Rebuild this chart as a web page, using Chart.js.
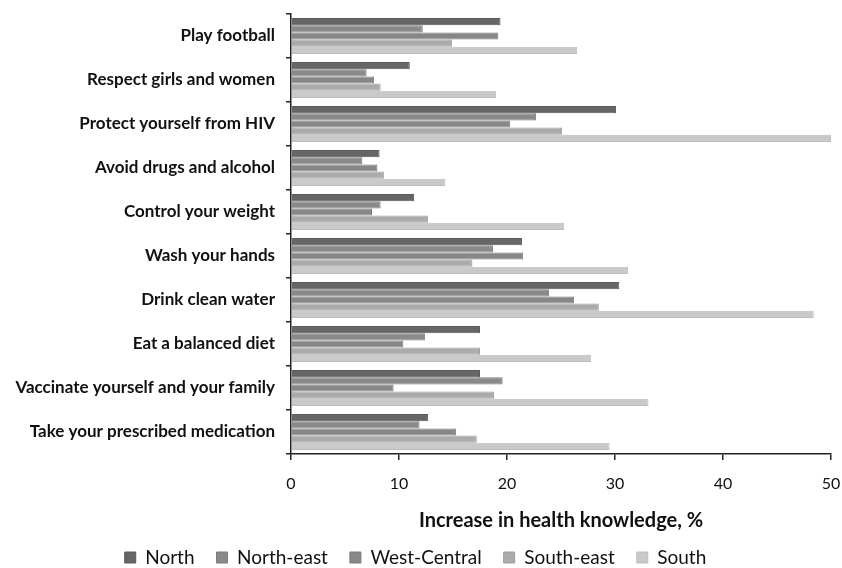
<!DOCTYPE html>
<html>
<head>
<meta charset="utf-8">
<script src="https://cdn.jsdelivr.net/npm/chart.js@4/dist/chart.umd.min.js"></script>
<style>
html,body{margin:0;padding:0;background:#fff;}
#wrap{width:842px;height:568px;position:relative;}
</style>
</head>
<body>
<div id="wrap"><canvas id="c" width="842" height="568"></canvas></div>
<script>
const categories = [
  "Play football",
  "Respect girls and women",
  "Protect yourself from HIV",
  "Avoid drugs and alcohol",
  "Control your weight",
  "Wash your hands",
  "Drink clean water",
  "Eat a balanced diet",
  "Vaccinate yourself and your family",
  "Take your prescribed medication"
];
const seriesNames = ["North", "North-east", "West-Central", "South-east", "South"];
const north      = [19.4, 11.0, 30.1, 8.2, 11.4, 21.4, 30.4, 17.5, 17.5, 12.7];
const northEast  = [12.2, 7.0, 22.7, 6.6, 8.3, 18.7, 23.9, 12.4, 19.6, 11.9];
const westCentral= [19.2, 7.7, 20.3, 8.0, 7.5, 21.5, 26.2, 10.4, 9.5, 15.3];
const southEast  = [14.9, 8.3, 25.1, 8.6, 12.7, 16.8, 28.5, 17.5, 18.8, 17.2];
const south      = [26.5, 19.0, 50.0, 14.3, 25.3, 31.2, 48.4, 27.8, 33.1, 29.5];
const xTicks = [0, 10, 20, 30, 40, 50];

const fills   = ["#666666", "#8a8a8a", "#878787", "#ababab", "#c9c9c9"];
const borders = ["#5a5a5a", "#7c7c7c", "#7a7a7a", "#9e9e9e", "#bdbdbd"];
const allData = [north, northEast, westCentral, southEast, south];

const FONT = "Lato, 'Open Sans', 'Liberation Sans', sans-serif";

new Chart(document.getElementById('c'), {
  type: 'bar',
  data: {
    labels: categories,
    datasets: allData.map((d, i) => ({
      label: seriesNames[i],
      data: d,
      backgroundColor: fills[i],
      borderColor: borders[i],
      borderWidth: 1,
      categoryPercentage: 0.82,
      barPercentage: 1.0
    }))
  },
  options: {
    indexAxis: 'y',
    responsive: false,
    animation: false,
    layout: { padding: { top: 14, right: 11, left: 0, bottom: 0 } },
    plugins: {
      legend: {
        position: 'bottom',
        maxHeight: 42,
        labels: {
          boxWidth: 11, boxHeight: 11, padding: 22,
          color: '#111',
          font: { family: FONT, size: 19 }
        }
      },
      tooltip: { enabled: false }
    },
    scales: {
      x: {
        min: 0, max: 50,
        afterBuildTicks: (s) => { s.ticks = xTicks.map(v => ({ value: v })); },
        afterFit: (s) => { s.height = 72; s.paddingRight = 0; s.paddingLeft = 0; },
        border: { color: '#222', width: 1.5 },
        grid: { drawOnChartArea: false, drawTicks: true, tickLength: 6, color: '#222', lineWidth: 1.5 },
        ticks: { color: '#111', padding: 14, font: { family: FONT, size: 16 } },
        title: {
          display: true, text: 'Increase in health knowledge, %',
          color: '#111', padding: { top: 0, bottom: -7 },
          font: { family: FONT, size: 20, weight: 'bold' }
        }
      },
      y: {
        afterFit: (s) => { s.width = 291; s.paddingTop = 0; s.paddingBottom = 0; },
        border: { color: '#222', width: 1.5 },
        grid: { offset: true, drawOnChartArea: false, drawTicks: true, tickLength: 5, color: '#222', lineWidth: 1.5 },
        ticks: { color: '#111', padding: 11, font: { family: FONT, size: 17, weight: 'bold' } }
      }
    }
  }
});
</script>
</body>
</html>
